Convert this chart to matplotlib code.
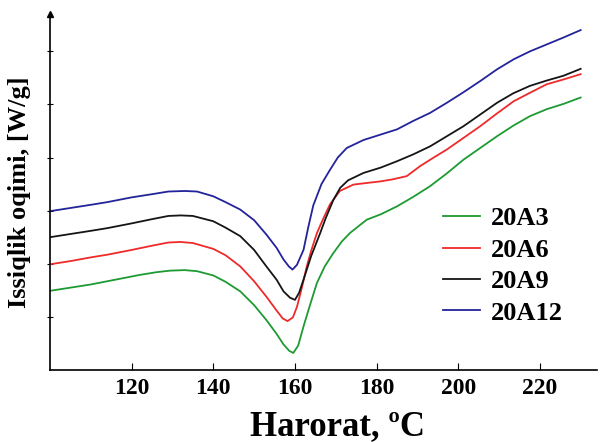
import matplotlib.pyplot as plt

plt.rcParams['font.family'] = ['Liberation Serif', 'DejaVu Serif']
plt.rcParams['font.weight'] = 'bold'

# heat flow curves (arbitrary units)
t_20a3 = [100, 105, 110, 114, 118, 122, 126, 129.4, 133, 136, 140, 143, 146.6, 150, 153, 155.5, 157.2,
          158.6, 159.6, 160.8, 162.1, 163.8, 165.4, 167.3, 169.4, 171.5, 173.5, 177.6, 181, 185, 189,
          193.1, 197.2, 201.3, 205.4, 209.5, 213.5, 217.6, 221.7, 225.8, 230]
y_20a3 = [1.49, 1.55, 1.61, 1.67, 1.73, 1.79, 1.84, 1.87, 1.88, 1.86, 1.78, 1.66, 1.48, 1.22, 0.94, 0.68, 0.48,
          0.36, 0.32, 0.46, 0.82, 1.25, 1.64, 1.95, 2.20, 2.42, 2.58, 2.83, 2.93, 3.08, 3.26,
          3.46, 3.70, 3.96, 4.18, 4.40, 4.60, 4.78, 4.91, 5.01, 5.13]

t_20a6 = [100, 105, 110, 114, 120, 125, 129, 132, 135, 140, 143, 146.6, 150, 153, 155.5, 157, 158.2,
          159.5, 160.5, 161.7, 162.9, 164, 165.4, 167, 168.6, 171, 174.3, 177.5, 180.9, 184, 187.4,
          190.7, 194, 197.2, 201.3, 205.4, 209.5, 213.6, 217.6, 221.7, 225.8, 230]
y_20a6 = [1.99, 2.05, 2.12, 2.17, 2.26, 2.34, 2.40, 2.41, 2.39, 2.28, 2.16, 1.95, 1.67, 1.38, 1.12, 0.97, 0.92,
          0.99, 1.19, 1.55, 1.95, 2.25, 2.58, 2.86, 3.12, 3.37, 3.49, 3.52, 3.55, 3.59, 3.65,
          3.84, 4.00, 4.15, 4.37, 4.59, 4.83, 5.06, 5.22, 5.38, 5.47, 5.57]

t_20a9 = [100, 105, 110, 114, 120, 125, 129, 132, 135, 140, 143, 146.6, 150, 153, 155.5, 157.2, 158.8,
          160, 161, 162.1, 164, 166.2, 167.5, 169.4, 171.1, 173, 176.8, 181, 185, 189, 193.1, 197.2,
          201.3, 205.4, 209.5, 213.5, 217.6, 221.7, 225.8, 230]
y_20a9 = [2.50, 2.56, 2.62, 2.67, 2.76, 2.84, 2.90, 2.91, 2.90, 2.80, 2.68, 2.52, 2.26, 1.95, 1.70, 1.48, 1.36,
          1.32, 1.45, 1.70, 2.15, 2.58, 2.85, 3.20, 3.43, 3.57, 3.71, 3.81, 3.93, 4.06, 4.21, 4.40,
          4.59, 4.81, 5.03, 5.21, 5.35, 5.45, 5.54, 5.67]

t_20a12 = [100, 105, 110, 114, 120, 125, 129, 133, 136, 140, 143, 146.6, 150, 153, 155.5, 157.2, 158.5,
           159.4, 160.5, 162.1, 163.3, 164.5, 166.5, 168.6, 170.5, 172.7, 176.8, 180.9, 185, 189, 193.1,
           197.2, 201.3, 205.4, 209.5, 213.6, 217.6, 221.7, 225.8, 230]
y_20a12 = [2.99, 3.05, 3.11, 3.16, 3.25, 3.31, 3.36, 3.37, 3.36, 3.27, 3.16, 3.02, 2.82, 2.55, 2.30, 2.08, 1.95,
           1.89, 1.98, 2.26, 2.70, 3.10, 3.50, 3.77, 4.00, 4.18, 4.33, 4.43, 4.53, 4.69, 4.84,
           5.03, 5.23, 5.44, 5.66, 5.85, 6.00, 6.13, 6.26, 6.40]

series = [
    ("20A3", t_20a3, y_20a3, "#1e9a32"),
    ("20A6", t_20a6, y_20a6, "#ee2a2a"),
    ("20A9", t_20a9, y_20a9, "#151515"),
    ("20A12", t_20a12, y_20a12, "#23239a"),
]
x_ticks = [120, 140, 160, 180, 200, 220]

fig = plt.figure(figsize=(6.03, 4.42), dpi=100)
ax = fig.add_axes([0.083, 0.163, 0.907, 0.805])

for name, t, y, c in series:
    ax.plot(t, y, color=c, lw=1.3, label=name)

ax.set_xlim(100, 234)
ax.set_ylim(0, 6.7)
ax.set_xticks(x_ticks)
ax.set_yticks([1, 2, 3, 4, 5, 6])
ax.set_yticklabels([])
ax.tick_params(axis='x', direction='in', length=5, width=0.8, labelsize=17, pad=6)
ax.tick_params(axis='y', direction='inout', length=5, width=0.8)
ax.spines['top'].set_visible(False)
ax.spines['right'].set_visible(False)
for s in ('left', 'bottom'):
    ax.spines[s].set_linewidth(1.2)
# arrow at the top of the y axis
ax.plot([0], [1], marker='^', color='black', ms=4, transform=ax.transAxes, clip_on=False)

ax.set_xlabel("Harorat, ºC", fontsize=25, fontweight='bold')
ax.xaxis.set_label_coords(0.525, -0.112)
ax.set_ylabel("Issiqlik oqimi, [W/g]", fontsize=19, fontweight='bold', labelpad=8)

leg = ax.legend(loc='upper left', bbox_to_anchor=(0.675, 0.525), frameon=False,
                prop={'size': 19, 'weight': 'bold'}, handlelength=1.4, labelspacing=0.3,
                handletextpad=0.4)

plt.savefig("out.png", dpi=100)
plt.close()
